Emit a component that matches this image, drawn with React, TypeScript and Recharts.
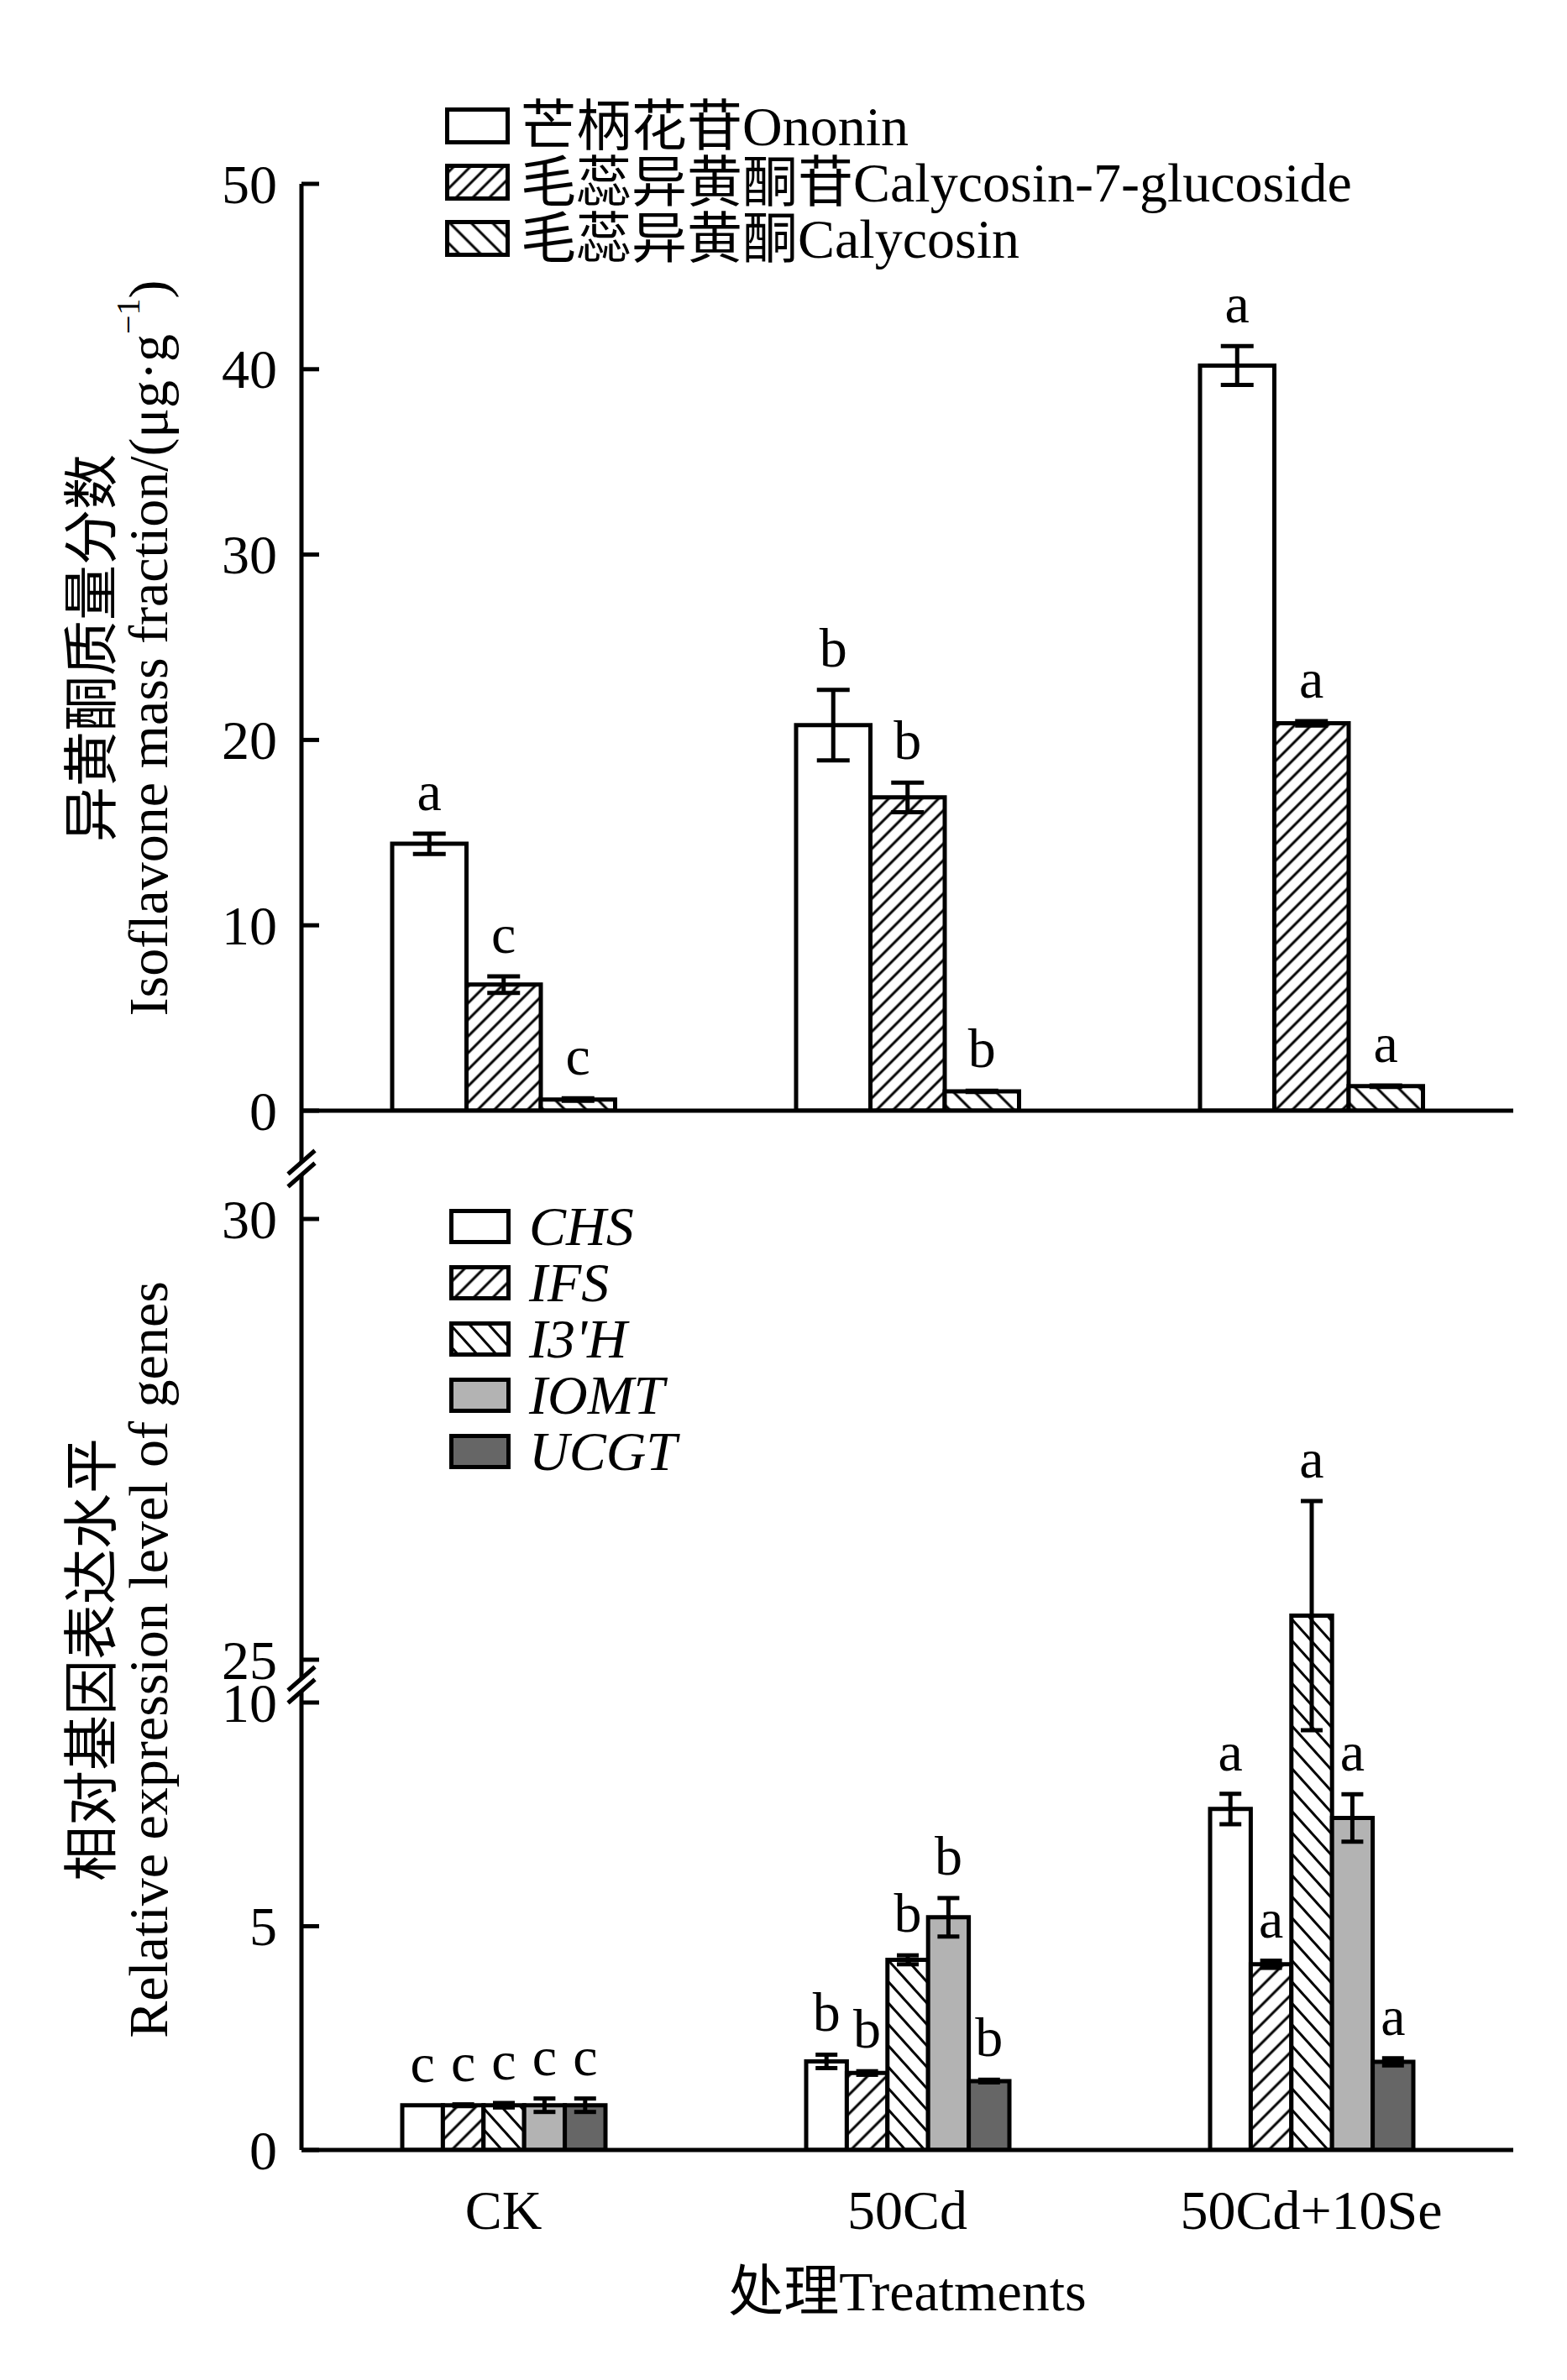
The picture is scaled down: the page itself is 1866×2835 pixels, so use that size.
import React from "react";
import { Bar, BarChart, ErrorBar, LabelList, Legend, XAxis, YAxis } from "recharts";

const TREATMENTS = ["CK", "50Cd", "50Cd+10Se"];

// isoflavone mass fraction, μg·g-1 (mean, error, letter)
const ONONIN = [14.4, 20.8, 40.2];
const ONONIN_SE = [0.55, 1.9, 1.05];
const ONONIN_SIG = ["a", "b", "a"];
const C7G = [6.8, 16.9, 20.9];
const C7G_SE = [0.45, 0.8, 0.12];
const C7G_SIG = ["c", "b", "a"];
const CALY = [0.6, 1.04, 1.32];
const CALY_SE = [0.07, 0.03, 0.04];
const CALY_SIG = ["c", "b", "a"];
const TOP_TICKS = [0, 10, 20, 30, 40, 50];

// relative expression of genes
const CHS = [1.0, 1.98, 7.62];
const CHS_SE = [0, 0.15, 0.34];
const IFS = [1.0, 1.72, 4.15];
const IFS_SE = [0.02, 0.04, 0.08];
const I3H = [1.0, 4.25, 25.5];
const I3H_SE = [0.05, 0.1, 1.3];
const IOMT = [1.0, 5.2, 7.42];
const IOMT_SE = [0.15, 0.43, 0.53];
const UCGT = [1.0, 1.54, 1.97];
const UCGT_SE = [0.15, 0.03, 0.08];
const GENE_SIG = ["c", "b", "a"];
const BOT_TICKS = [0, 5, 10, 25, 30];

const SERIF = "'Liberation Serif', 'Times New Roman', 'Noto Sans CJK SC', serif";
const FS = 66;

// layout (px)
const W = 1866;
const H = 2835;
const AXIS_X = 359;
const RIGHT = 64;
const TOP_Y0 = 1323;
const TOP_Y50 = 219;
const TOP_CHART_H = 1400;
const BOT_TOP = 1300;
const BOT_Y0 = 2561;
const BOT_Y10 = 2028;
const BOT_Y25 = 1977;
const BOT_Y30 = 1452;

// broken axis: 0-10 and 25-30 mapped onto one linear scale
const PX_LOW = (BOT_Y0 - BOT_Y10) / 10;
const K = (BOT_Y25 - BOT_Y30) / 5 / PX_LOW;
const V25 = (BOT_Y0 - BOT_Y25) / PX_LOW;
const BOT_MAX = (BOT_Y0 - TOP_Y0) / PX_LOW;
const toV = (v: number) => (v <= 10 ? v : V25 + (v - 25) * K);
const seV = (v: number, e: number) => (v <= 10 ? e : e * K);

const TOP_SERIES = [
  { key: "ononin", name: "芒柄花苷Ononin", values: ONONIN, se: ONONIN_SE, sig: ONONIN_SIG },
  { key: "c7g", name: "毛蕊异黄酮苷Calycosin-7-glucoside", values: C7G, se: C7G_SE, sig: C7G_SIG },
  { key: "caly", name: "毛蕊异黄酮Calycosin", values: CALY, se: CALY_SE, sig: CALY_SIG },
];
const TOP_FILLS = ["#fff", "url(#top-fwd)", "url(#top-back)"];

const GENES = [
  { key: "chs", name: "CHS", values: CHS, se: CHS_SE },
  { key: "ifs", name: "IFS", values: IFS, se: IFS_SE },
  { key: "i3h", name: "I3'H", values: I3H, se: I3H_SE },
  { key: "iomt", name: "IOMT", values: IOMT, se: IOMT_SE },
  { key: "ucgt", name: "UCGT", values: UCGT, se: UCGT_SE },
];
const GENE_FILLS = ["#fff", "url(#bot-fwd)", "url(#bot-back)", "#b3b3b3", "#666666"];

function Hatch({ id, size, angle }: { id: string; size: number; angle: number }) {
  return (
    <pattern id={id} width={size} height={size} patternUnits="userSpaceOnUse" patternTransform={`rotate(${angle})`}>
      <rect width={size} height={size} fill="#fff" />
      <line x1={size / 2} y1={0} x2={size / 2} y2={size} stroke="#000" strokeWidth={3} />
    </pattern>
  );
}

function YTick(props: any) {
  const { x, y, index, labels } = props;
  return (
    <g>
      <line x1={x} x2={x + 21} y1={y} y2={y} stroke="#000" strokeWidth={5} />
      <text x={x - 29} y={y} textAnchor="end" dominantBaseline="central" fontFamily={SERIF} fontSize={FS}>
        {labels[index]}
      </text>
    </g>
  );
}

function XTick(props: any) {
  const { x, y, payload } = props;
  return (
    <text x={x} y={y + 94} textAnchor="middle" fontFamily={SERIF} fontSize={FS}>
      {payload.value}
    </text>
  );
}

const sigLabel = (sig: string[], err: number[]) => (props: any) => {
  const vb = props.viewBox && props.viewBox.width !== undefined ? props.viewBox : props;
  const { x, y, width, height } = vb;
  const v = Number(props.value);
  const top = Math.min(y, y + height);
  const h = Math.abs(height);
  const e = v > 0 ? (err[props.index] / v) * h : 0;
  return (
    <text x={x + width / 2} y={top - e - 28} textAnchor="middle" fontFamily={SERIF} fontSize={FS}>
      {sig[props.index]}
    </text>
  );
};

function TopLegend() {
  return (
    <svg width={1200} height={230}>
      {TOP_SERIES.map((s, i) => (
        <g key={s.key}>
          <rect x={12.5} y={20.5 + i * 67} width={72} height={39} fill={TOP_FILLS[i]} stroke="#000" strokeWidth={5} />
          <text x={100} y={63 + i * 67} fontFamily={SERIF} fontSize={FS}>
            {s.name}
          </text>
        </g>
      ))}
    </svg>
  );
}

function GeneLegend() {
  return (
    <svg width={600} height={360}>
      {GENES.map((g, i) => (
        <g key={g.key}>
          <rect x={17.5} y={22.5 + i * 67} width={68} height={37} fill={GENE_FILLS[i]} stroke="#000" strokeWidth={5} />
          <text x={110} y={63 + i * 67} fontFamily={SERIF} fontSize={FS} fontStyle="italic">
            {g.name}
          </text>
        </g>
      ))}
    </svg>
  );
}

function AxisBreak({ x, y }: { x: number; y: number }) {
  const dx = 16;
  const dy = 14;
  const g = 7.5;
  return (
    <g>
      <polygon points={`${x - dx},${y - g + dy} ${x + dx},${y - g - dy} ${x + dx},${y + g - dy} ${x - dx},${y + g + dy}`} fill="#fff" />
      <line x1={x - dx} y1={y - g + dy} x2={x + dx} y2={y - g - dy} stroke="#000" strokeWidth={5} />
      <line x1={x - dx} y1={y + g + dy} x2={x + dx} y2={y + g - dy} stroke="#000" strokeWidth={5} />
    </g>
  );
}

const axisStyle = { stroke: "#000", strokeWidth: 5 };

export default function App() {
  const topData = TREATMENTS.map((t, i) => {
    const row: any = { t };
    TOP_SERIES.forEach((s) => {
      row[s.key] = s.values[i];
      row[s.key + "Se"] = s.se[i];
    });
    return row;
  });
  const geneData = TREATMENTS.map((t, i) => {
    const row: any = { t };
    GENES.forEach((g) => {
      row[g.key] = toV(g.values[i]);
      row[g.key + "Se"] = seV(g.values[i], g.se[i]);
    });
    return row;
  });
  const botChartH = H - BOT_TOP;

  return (
    <div style={{ position: "absolute", left: 0, top: 0, width: W, height: H, background: "#fff", overflow: "hidden" }}>
      <div style={{ position: "absolute", left: 0, top: 0 }}>
        <BarChart
          width={W}
          height={TOP_CHART_H}
          data={topData}
          margin={{ top: TOP_Y50, right: RIGHT, bottom: 0, left: 0 }}
          barSize={88.5}
          barGap={0}
        >
          <defs>
            <Hatch id="top-fwd" size={14} angle={45} />
            <Hatch id="top-back" size={18} angle={-45} />
          </defs>
          <XAxis
            dataKey="t"
            type="category"
            height={TOP_CHART_H - TOP_Y0}
            tick={false}
            tickLine={false}
            axisLine={axisStyle}
          />
          <YAxis
            type="number"
            domain={[0, 50]}
            ticks={TOP_TICKS}
            interval={0}
            width={AXIS_X}
            tickSize={0}
            tickMargin={0}
            tickLine={false}
            axisLine={axisStyle}
            allowDataOverflow
            tick={(p: any) => <YTick {...p} labels={TOP_TICKS} />}
          />
          <Legend
            layout="vertical"
            align="center"
            verticalAlign="middle"
            wrapperStyle={{ left: 520, top: 110, width: 1200, height: 230 }}
            content={() => <TopLegend />}
          />
          {TOP_SERIES.map((s, i) => (
            <Bar key={s.key} dataKey={s.key} fill={TOP_FILLS[i]} stroke="#000" strokeWidth={5} isAnimationActive={false}>
              <ErrorBar dataKey={s.key + "Se"} direction="y" width={19.5} stroke="#000" strokeWidth={5} />
              <LabelList dataKey={s.key} content={sigLabel(s.sig, s.se)} />
            </Bar>
          ))}
        </BarChart>
      </div>

      <div style={{ position: "absolute", left: 0, top: BOT_TOP }}>
        <BarChart
          width={W}
          height={botChartH}
          data={geneData}
          margin={{ top: TOP_Y0 - BOT_TOP, right: RIGHT, bottom: 0, left: 0 }}
          barSize={48.4}
          barGap={0}
        >
          <defs>
            <Hatch id="bot-fwd" size={16} angle={45} />
            <Hatch id="bot-back" size={17} angle={-42} />
          </defs>
          <XAxis
            dataKey="t"
            type="category"
            height={H - BOT_Y0}
            interval={0}
            tickSize={0}
            tickMargin={0}
            tickLine={false}
            axisLine={axisStyle}
            tick={(p: any) => <XTick {...p} />}
          />
          <YAxis
            type="number"
            domain={[0, BOT_MAX]}
            ticks={BOT_TICKS.map(toV)}
            interval={0}
            width={AXIS_X}
            tickSize={0}
            tickMargin={0}
            tickLine={false}
            axisLine={axisStyle}
            allowDataOverflow
            tick={(p: any) => <YTick {...p} labels={BOT_TICKS} />}
          />
          <Legend
            layout="vertical"
            align="center"
            verticalAlign="middle"
            wrapperStyle={{ left: 520, top: 120, width: 600, height: 360 }}
            content={() => <GeneLegend />}
          />
          {GENES.map((g, i) => (
            <Bar key={g.key} dataKey={g.key} fill={GENE_FILLS[i]} stroke="#000" strokeWidth={5} isAnimationActive={false}>
              <ErrorBar dataKey={g.key + "Se"} direction="y" width={13} stroke="#000" strokeWidth={5} />
              <LabelList
                dataKey={g.key}
                content={sigLabel(GENE_SIG, g.values.map((v, j) => seV(v, g.se[j])))}
              />
            </Bar>
          ))}
        </BarChart>
      </div>

      <svg width={W} height={H} style={{ position: "absolute", left: 0, top: 0, pointerEvents: "none" }}>
        <AxisBreak x={AXIS_X} y={1392} />
        <AxisBreak x={AXIS_X} y={2007} />
        <g fontFamily={SERIF} fontSize={FS} textAnchor="middle" dominantBaseline="central">
          <text transform="translate(109,772) rotate(-90)">异黄酮质量分数</text>
          <text transform="translate(176,772) rotate(-90)">
            Isoflavone mass fraction/(μg·g
            <tspan dy={-24} fontSize={40}>
              −1
            </tspan>
            <tspan dy={24}>)</tspan>
          </text>
          <text transform="translate(109,1977) rotate(-90)">相对基因表达水平</text>
          <text transform="translate(176,1977) rotate(-90)">Relative expression level of genes</text>
        </g>
        <text x={(AXIS_X + W - RIGHT) / 2} y={2752} textAnchor="middle" fontFamily={SERIF} fontSize={FS}>
          处理Treatments
        </text>
      </svg>
    </div>
  );
}
